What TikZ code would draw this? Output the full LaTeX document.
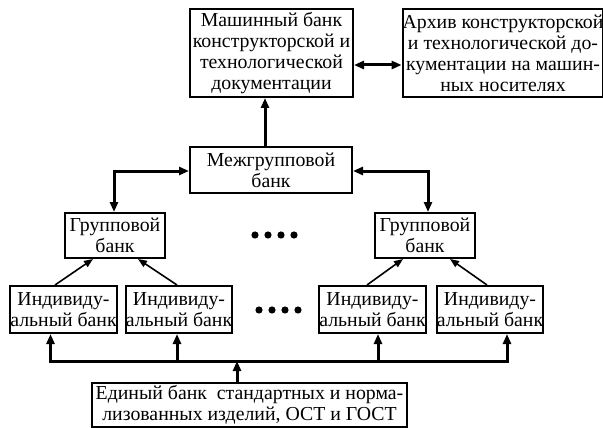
\documentclass[tikz,border=0pt]{standalone}
\usepackage{fontspec}
\setmainfont{Liberation Serif}
\usetikzlibrary{arrows.meta}
\begin{document}
\begin{tikzpicture}[x=1pt,y=-1pt,
 box/.style={draw,line width=2pt,inner sep=0pt,align=center,font=\fontsize{19.8}{21}\selectfont},
 bigarrow/.style={-{Triangle[length=10pt,width=8pt]},line width=3pt},
 botharrow/.style={{Triangle[length=10pt,width=8pt]}-{Triangle[length=10pt,width=8pt]},line width=3pt},
 thinarrow/.style={-{Triangle[length=9pt,width=7pt]},line width=1.6pt},
 busline/.style={line width=3pt},
 dotmark/.style={fill=black,draw=none}]
\useasboundingbox (0,0) rectangle (603,428);
\fill[white] (0,0) rectangle (603,428);

% top row
\node[box,minimum width=163pt,minimum height=88pt] (mash) at (271.5,53)
  {Машинный банк\\конструкторской и\\технологической\\документации};
\node[box,minimum width=196pt,minimum height=88pt] (arch) at (503,53)
  {Архив конструкторской\\и технологической до-\\кументации на машин-\\ных носителях};

% middle
\node[box,minimum width=162pt,minimum height=46pt] (mezh) at (271,170)
  {Межгрупповой\\банк};
\node[box,minimum width=100pt,minimum height=45pt] (grpL) at (115,235.5)
  {Групповой\\банк};
\node[box,minimum width=100pt,minimum height=45pt] (grpR) at (425,235.5)
  {Групповой\\банк};

% individual banks
\node[box,minimum width=106pt,minimum height=47pt] (ind1) at (63.5,309.5)
  {Индивиду-\\альный банк};
\node[box,minimum width=106pt,minimum height=47pt] (ind2) at (179,309.5)
  {Индивиду-\\альный банк};
\node[box,minimum width=106pt,minimum height=47pt] (ind3) at (372.5,309.5)
  {Индивиду-\\альный банк};
\node[box,minimum width=106pt,minimum height=47pt] (ind4) at (490,309.5)
  {Индивиду-\\альный банк};

% bottom
\node[box,minimum width=315pt,minimum height=44pt] (edin) at (249.5,405)
  {Единый банк\ \ стандартных и норма-\\лизованных изделий, ОСТ и ГОСТ};

% connectors top
\draw[botharrow] (mash.east) ++(0,12) coordinate (ma) -- (ma -| arch.west);
\coordinate (mz) at (265,0);
\draw[bigarrow] (mz |- mezh.north) -- (mz |- mash.south);
\coordinate (gl) at (114,171);
\coordinate (gr) at (428,171);
\draw[botharrow] (grpL.north -| gl) |- (gl -| mezh.west);
\draw[botharrow] (grpR.north -| gr) |- (gr -| mezh.east);

% thin arrows to group banks
\coordinate (t1) at (55,0);  \coordinate (h1) at (93,0);
\coordinate (t2) at (177,0); \coordinate (h2) at (138,0);
\coordinate (t3) at (367,0); \coordinate (h3) at (403,0);
\coordinate (t4) at (487,0); \coordinate (h4) at (450,0);
\draw[thinarrow] (t1 |- ind1.north) -- (h1 |- grpL.south);
\draw[thinarrow] (t2 |- ind2.north) -- (h2 |- grpL.south);
\draw[thinarrow] (t3 |- ind3.north) -- (h3 |- grpR.south);
\draw[thinarrow] (t4 |- ind4.north) -- (h4 |- grpR.south);

% bus
\coordinate (bL) at (49,361);
\coordinate (bR) at (508.5,361);
\draw[busline] (bL) -- (bR);
\coordinate (b1) at (50.5,361);
\coordinate (b2) at (177,361);
\coordinate (b3) at (378,361);
\coordinate (b4) at (507,361);
\draw[bigarrow] (b1) -- (b1 |- ind1.south);
\draw[bigarrow] (b2) -- (b2 |- ind2.south);
\draw[bigarrow] (b3) -- (b3 |- ind3.south);
\draw[bigarrow] (b4) -- (b4 |- ind4.south);
\coordinate (be) at (237,361);
\draw[bigarrow] (be |- edin.north) -- (be);

% dots
\foreach \x in {255,268,281,294} \fill[dotmark] (\x,235) circle (3.6pt);
\foreach \x in {259,272,285,298} \fill[dotmark] (\x,310) circle (3.6pt);
\end{tikzpicture}
\end{document}
